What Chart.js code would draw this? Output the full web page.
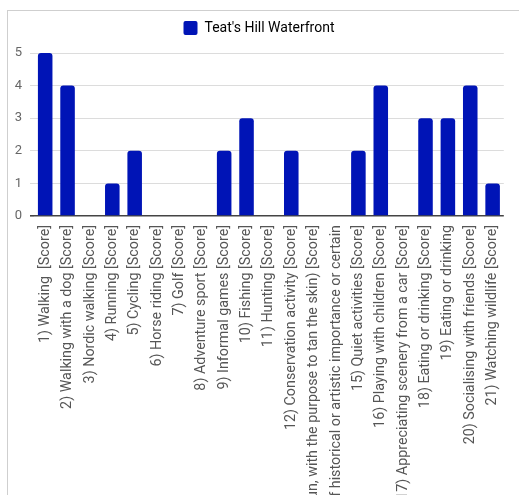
<!DOCTYPE html>
<html>
<head>
<meta charset="utf-8">
<script src="https://cdn.jsdelivr.net/npm/chart.js@4"></script>
<style>
  html, body { margin: 0; padding: 0; background: #fff; overflow: hidden; }
  #frame {
    position: absolute; left: 7px; top: 10px; width: 512px; height: 485px;
    border-left: 1px solid #cfcfcf; border-top: 1px solid #cfcfcf;
  }
  #wrap { position: absolute; left: 0; top: 0; width: 511px; height: 484px; }
</style>
</head>
<body>
<div id="frame">
  <div id="wrap"><canvas id="myChart"></canvas></div>
</div>
<script>
const categories = [
  '1) Walking  [Score]',
  '2) Walking with a dog [Score]',
  '3) Nordic walking [Score]',
  '4) Running [Score]',
  '5) Cycling [Score]',
  '6) Horse riding [Score]',
  '7) Golf [Score]',
  '8) Adventure sport [Score]',
  '9) Informal games [Score]',
  '10) Fishing [Score]',
  '11) Hunting [Score]',
  '12) Conservation activity [Score]',
  '13) Sunbathing (lying in the sun, with the purpose to tan the skin) [Score]',
  '14) Visiting places of historical or artistic importance or certain',
  '15) Quiet activities [Score]',
  '16) Playing with children [Score]',
  '17) Appreciating scenery from a car [Score]',
  '18) Eating or drinking [Score]',
  '19) Eating or drinking',
  '20) Socialising with friends [Score]',
  '21) Watching wildlife [Score]'
];
const seriesName = "Teat's Hill Waterfront";
const scores = [5, 4, 0, 1, 2, 0, 0, 0, 2, 3, 0, 2, 0, 0, 2, 4, 0, 3, 3, 4, 1];
const yTicks = [0, 1, 2, 3, 4, 5];

const barColor = '#0014b6';

// push the plot a little lower under the legend
const legendGap = {
  id: 'legendGap',
  beforeInit(chart) {
    const fit = chart.legend.fit;
    chart.legend.fit = function() {
      fit.call(this);
      this.height += 8;
    };
  }
};

const ctx = document.getElementById('myChart').getContext('2d');
const myChart = new Chart(ctx, {
  type: 'bar',
  data: {
    labels: categories,
    datasets: [{
      label: seriesName,
      data: scores,
      backgroundColor: barColor,
      borderColor: barColor,
      borderWidth: 0,
      borderRadius: { topLeft: 3, topRight: 3 },
      borderSkipped: 'bottom',
      barPercentage: 0.65,
      categoryPercentage: 1.0
    }]
  },
  plugins: [legendGap],
  options: {
    responsive: true,
    maintainAspectRatio: false,
    animation: false,
    layout: { padding: { top: 0, right: 9, left: 0, bottom: 0 } },
    plugins: {
      tooltip: { enabled: false },
      legend: {
        position: 'top',
        labels: {
          boxWidth: 14,
          boxHeight: 14,
          padding: 10,
          color: '#555',
          font: { family: 'Roboto', size: 14 },
          generateLabels: (chart) => [{
            text: seriesName,
            fillStyle: barColor,
            strokeStyle: barColor,
            lineWidth: 0,
            borderRadius: 2,
            datasetIndex: 0
          }]
        }
      }
    },
    scales: {
      x: {
        offset: true,
        grid: { display: false, drawTicks: false },
        border: { display: false },
        ticks: {
          autoSkip: false,
          maxRotation: 90,
          minRotation: 90,
          padding: 9,
          color: '#555',
          font: { family: 'Roboto', size: 14.3 }
        },
        afterFit: (axis) => { axis.height = 279; }
      },
      y: {
        min: 0,
        max: 5,
        afterBuildTicks: (axis) => { axis.ticks = yTicks.map(v => ({ value: v })); },
        grid: {
          color: (c) => c.tick && c.tick.value === 0 ? '#444' : '#dcdcdc',
          lineWidth: (c) => c.tick && c.tick.value === 0 ? 1.6 : 1,
          tickLength: 4,
          drawTicks: true
        },
        border: { display: false },
        ticks: {
          padding: 8,
          color: '#666',
          font: { family: 'Roboto', size: 13 }
        },
        afterFit: (axis) => { axis.width = 26; }
      }
    }
  }
});
</script>
</body>
</html>
